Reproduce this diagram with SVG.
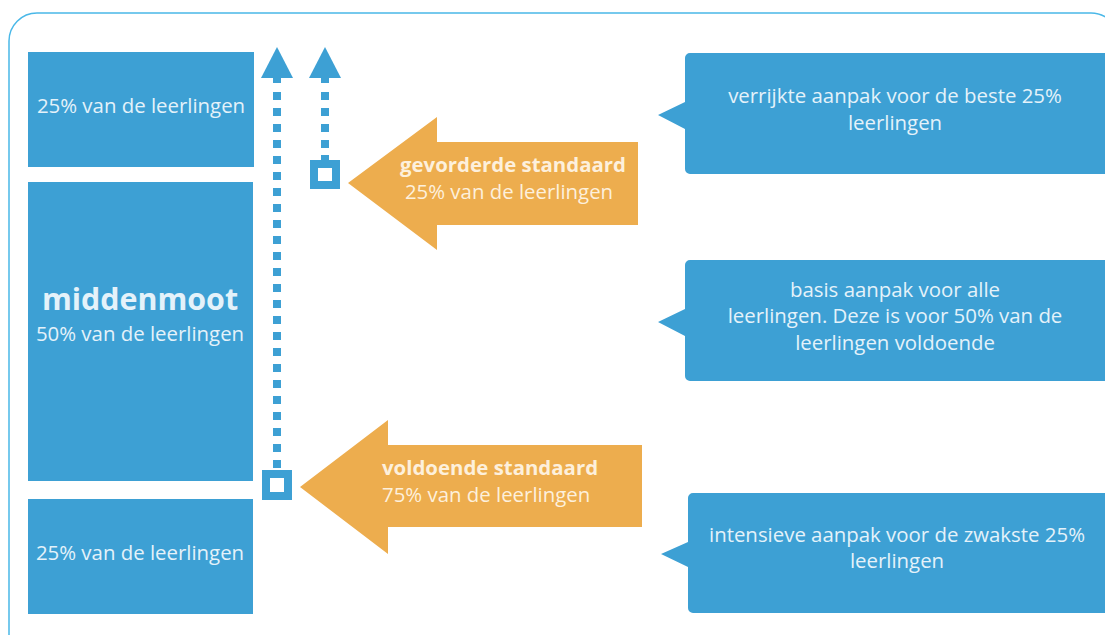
<svg xmlns="http://www.w3.org/2000/svg" width="1105" height="635" viewBox="0 0 1105 635">
<style>
.blk{fill:#3da0d4}
.txt{font-family:"Open Sans","Noto Sans",sans-serif;fill:#e4f2fa;font-size:20.4px}
.bold{font-weight:bold}
.otxt{font-family:"Open Sans","Noto Sans",sans-serif;fill:#fdf0dc;font-size:20.4px}
.arrow{fill:#edad4e}
.dot{stroke:#3da0d4;stroke-width:8;stroke-dasharray:8 8;fill:none}
.sq{fill:none;stroke:#3da0d4;stroke-width:8}
</style>
<rect width="1105" height="635" fill="#ffffff"/>
<rect x="9" y="13" width="1110" height="660" rx="28" fill="none" stroke="#4ab8e8" stroke-width="1.5"/>
<g id="blok-top">
<rect class="blk" x="28" y="52" width="226" height="115"/>
<text class="txt" x="141" y="113" text-anchor="middle">25% van de leerlingen</text>
</g>
<g id="blok-midden">
<rect class="blk" x="28" y="182" width="225" height="299"/>
<text class="txt bold" x="140" y="310" text-anchor="middle" style="font-size:30.4px">middenmoot</text>
<text class="txt" x="140" y="341" text-anchor="middle">50% van de leerlingen</text>
</g>
<g id="blok-onder">
<rect class="blk" x="28" y="499" width="225" height="115"/>
<text class="txt" x="140" y="560" text-anchor="middle">25% van de leerlingen</text>
</g>
<g id="connectors">
<polygon class="blk" points="277,47 293,78 261,78"/>
<rect class="blk" x="273" y="78" width="8" height="5"/>
<line class="dot" x1="277" y1="92" x2="277" y2="470"/>
<rect class="sq" x="266" y="474" width="22" height="22"/>
<polygon class="blk" points="325,47 341,78 309,78"/>
<rect class="blk" x="321" y="78" width="8" height="5"/>
<line class="dot" x1="325" y1="92" x2="325" y2="148"/>
<rect class="blk" x="321" y="155" width="8" height="6"/>
<rect class="sq" x="314" y="164" width="22" height="21"/>
</g>
<g id="pijl-gevorderd">
<polygon class="arrow" points="348,183 437,117 437,142 638,142 638,225 437,225 437,250"/>
<text class="otxt bold" x="513" y="172" text-anchor="middle">gevorderde standaard</text>
<text class="otxt" x="509" y="199" text-anchor="middle">25% van de leerlingen</text>
</g>
<g id="pijl-voldoende">
<polygon class="arrow" points="300,487 388,420 388,445 642,445 642,527 388,527 388,554"/>
<text class="otxt bold" x="382" y="475">voldoende standaard</text>
<text class="otxt" x="382" y="502">75% van de leerlingen</text>
</g>
<g id="ballon-verrijkt">
<path class="blk" d="M690,53 H1105 V174 H690 A5,5 0 0 1 685,169 V129 L658,115 L685,102 V58 A5,5 0 0 1 690,53 Z"/>
<text class="txt" x="895" y="103" text-anchor="middle">verrijkte aanpak voor de beste 25%</text>
<text class="txt" x="895" y="130" text-anchor="middle">leerlingen</text>
</g>
<g id="ballon-basis">
<path class="blk" d="M690,260 H1105 V381 H690 A5,5 0 0 1 685,376 V336 L658,322 L685,309 V265 A5,5 0 0 1 690,260 Z"/>
<text class="txt" x="895" y="297" text-anchor="middle">basis aanpak voor alle</text>
<text class="txt" x="895" y="323" text-anchor="middle">leerlingen. Deze is voor 50% van de</text>
<text class="txt" x="895" y="350" text-anchor="middle">leerlingen voldoende</text>
</g>
<g id="ballon-intensief">
<path class="blk" d="M693,493 H1105 V613 H693 A5,5 0 0 1 688,608 V567 L661,554 L688,542 V498 A5,5 0 0 1 693,493 Z"/>
<text class="txt" x="897" y="542" text-anchor="middle">intensieve aanpak voor de zwakste 25%</text>
<text class="txt" x="897" y="568" text-anchor="middle">leerlingen</text>
</g>
</svg>
